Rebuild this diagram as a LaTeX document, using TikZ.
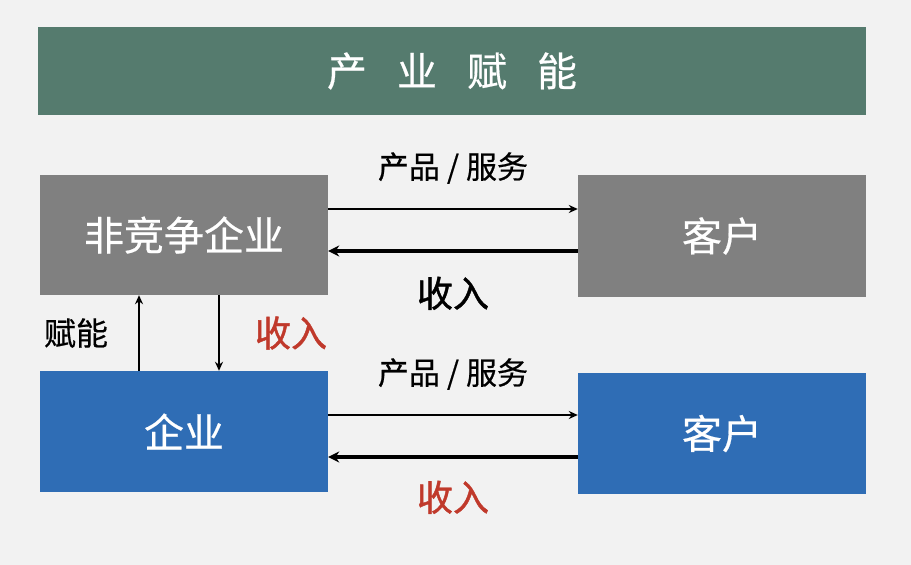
\documentclass[tikz,border=0pt]{standalone}
\usepackage{fontspec}
\setmainfont{Noto Sans CJK SC}
\newfontfamily\medfont[FakeBold=0.5]{Noto Sans CJK SC}
\newfontfamily\heavyfont[FakeBold=1.2]{Noto Sans CJK SC}
\usetikzlibrary{calc, arrows.meta}

\definecolor{bgc}{HTML}{F2F2F2}
\definecolor{bannerc}{HTML}{557B6E}
\definecolor{grayc}{HTML}{808080}
\definecolor{bluec}{HTML}{2F6DB5}
\definecolor{redc}{HTML}{C0392B}

\tikzset{
  box/.style = {minimum width=288pt, minimum height=121pt, inner sep=0pt, text=white,
                font=\medfont\fontsize{40}{42}\selectfont},
  graybox/.style = {box, fill=grayc},
  bluebox/.style = {box, fill=bluec},
  lab/.style = {inner sep=0pt, font=\medfont\fontsize{31}{34}\selectfont},
  inc/.style = {inner sep=0pt, font=\heavyfont\fontsize{36}{38}\selectfont},
  thinarr/.style = {line width=2.2pt, -{Stealth[length=9pt, width=8pt]}},
  thickarr/.style = {line width=3.4pt, -{Stealth[length=11pt, width=11pt]}},
}

\begin{document}
\begin{tikzpicture} [x = 1pt, y = -1pt]
      % 背景
      \fill [bgc] (0,0) rectangle (911,565);
      \useasboundingbox (0,0) rectangle (911,565);

      % 标题
      \node [fill=bannerc, minimum width=828pt, minimum height=88pt, inner sep=0pt, text=white,
             font=\medfont\fontsize{40}{42}\selectfont] (title) at (452,71)
             {产\hspace{30pt}业\hspace{30pt}赋\hspace{30pt}能};

      % 方框
      \node [graybox, minimum height=120pt] (ncomp) at (184,235) {非竞争企业};
      \node [graybox, minimum height=122pt] (cust1) at (722,236) {客户};
      \node [bluebox] (firm) at (184,431.5) {企业};
      \node [bluebox] (cust2) at (722,433.5) {客户};

      % 上段
      \draw [thinarr] ([yshift=26pt]ncomp.east) -- ([yshift=26pt]ncomp.east -| cust1.west)
            node [lab, midway, above=24pt] (prod1) {产品 / 服务};
      \draw [thickarr] ([yshift=-16pt]ncomp.east -| cust1.west) -- ([yshift=-16pt]ncomp.east)
            node [inc, midway, below=24pt] (inc1) {收入};

      % 赋能・收入
      \draw [thinarr] ([xshift=-45pt]firm.north) -- ([xshift=-45pt]firm.north |- ncomp.south);
      \draw [thinarr] ([xshift=35pt]ncomp.south) -- ([xshift=35pt]ncomp.south |- firm.north);
      \node [lab, font=\medfont\fontsize{32}{34}\selectfont] (fn) at (76,333) {赋能};
      \node [inc, text=redc] (inc2) at (291,333) {收入};

      % 下段
      \draw [thinarr] ([yshift=16.5pt]firm.east) -- ([yshift=16.5pt]firm.east -| cust2.west)
            node [lab, midway, above=24pt] (prod2) {产品 / 服务};
      \draw [thickarr] ([yshift=-25.5pt]firm.east -| cust2.west) -- ([yshift=-25.5pt]firm.east)
            node [inc, text=redc, midway, below=22pt] (inc3) {收入};
\end{tikzpicture}
\end{document}
